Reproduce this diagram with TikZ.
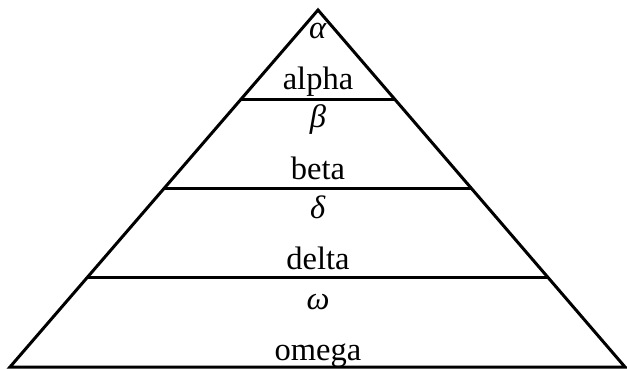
\documentclass[tikz,border=0pt]{standalone}
\usepackage{fontspec}
\setmainfont{Liberation Serif}
\usetikzlibrary{calc}
\begin{document}
\begin{tikzpicture}[x=1pt, y=-1pt, line width=3pt,
  every node/.style={font=\fontsize{32.5}{38}\selectfont, inner sep=0pt, anchor=base}]
\useasboundingbox (0,0) rectangle (627,369);
% outline of the pyramid
\coordinate (apex) at (318,10);
\coordinate (bl) at (10,367);
\coordinate (br) at (625,367);
\draw[line join=miter] (apex) -- (bl) -- (br) -- cycle;
% layer separators
\foreach \f/\n in {0.25/a, 0.5/b, 0.75/c} {
  \draw ($(apex)!\f!(bl)$) coordinate (l\n) -- ($(apex)!\f!(br)$) coordinate (r\n);
}
% labels
\foreach \t/\sym/\word in {9/α/alpha, 98/β/beta, 188/δ/delta, 279/ω/omega} {
  \node (sym-\word) at (318,\t+30) {\textit{\sym}};
  \node (txt-\word) at (318,\t+81) {\word};
}
\end{tikzpicture}
\end{document}
